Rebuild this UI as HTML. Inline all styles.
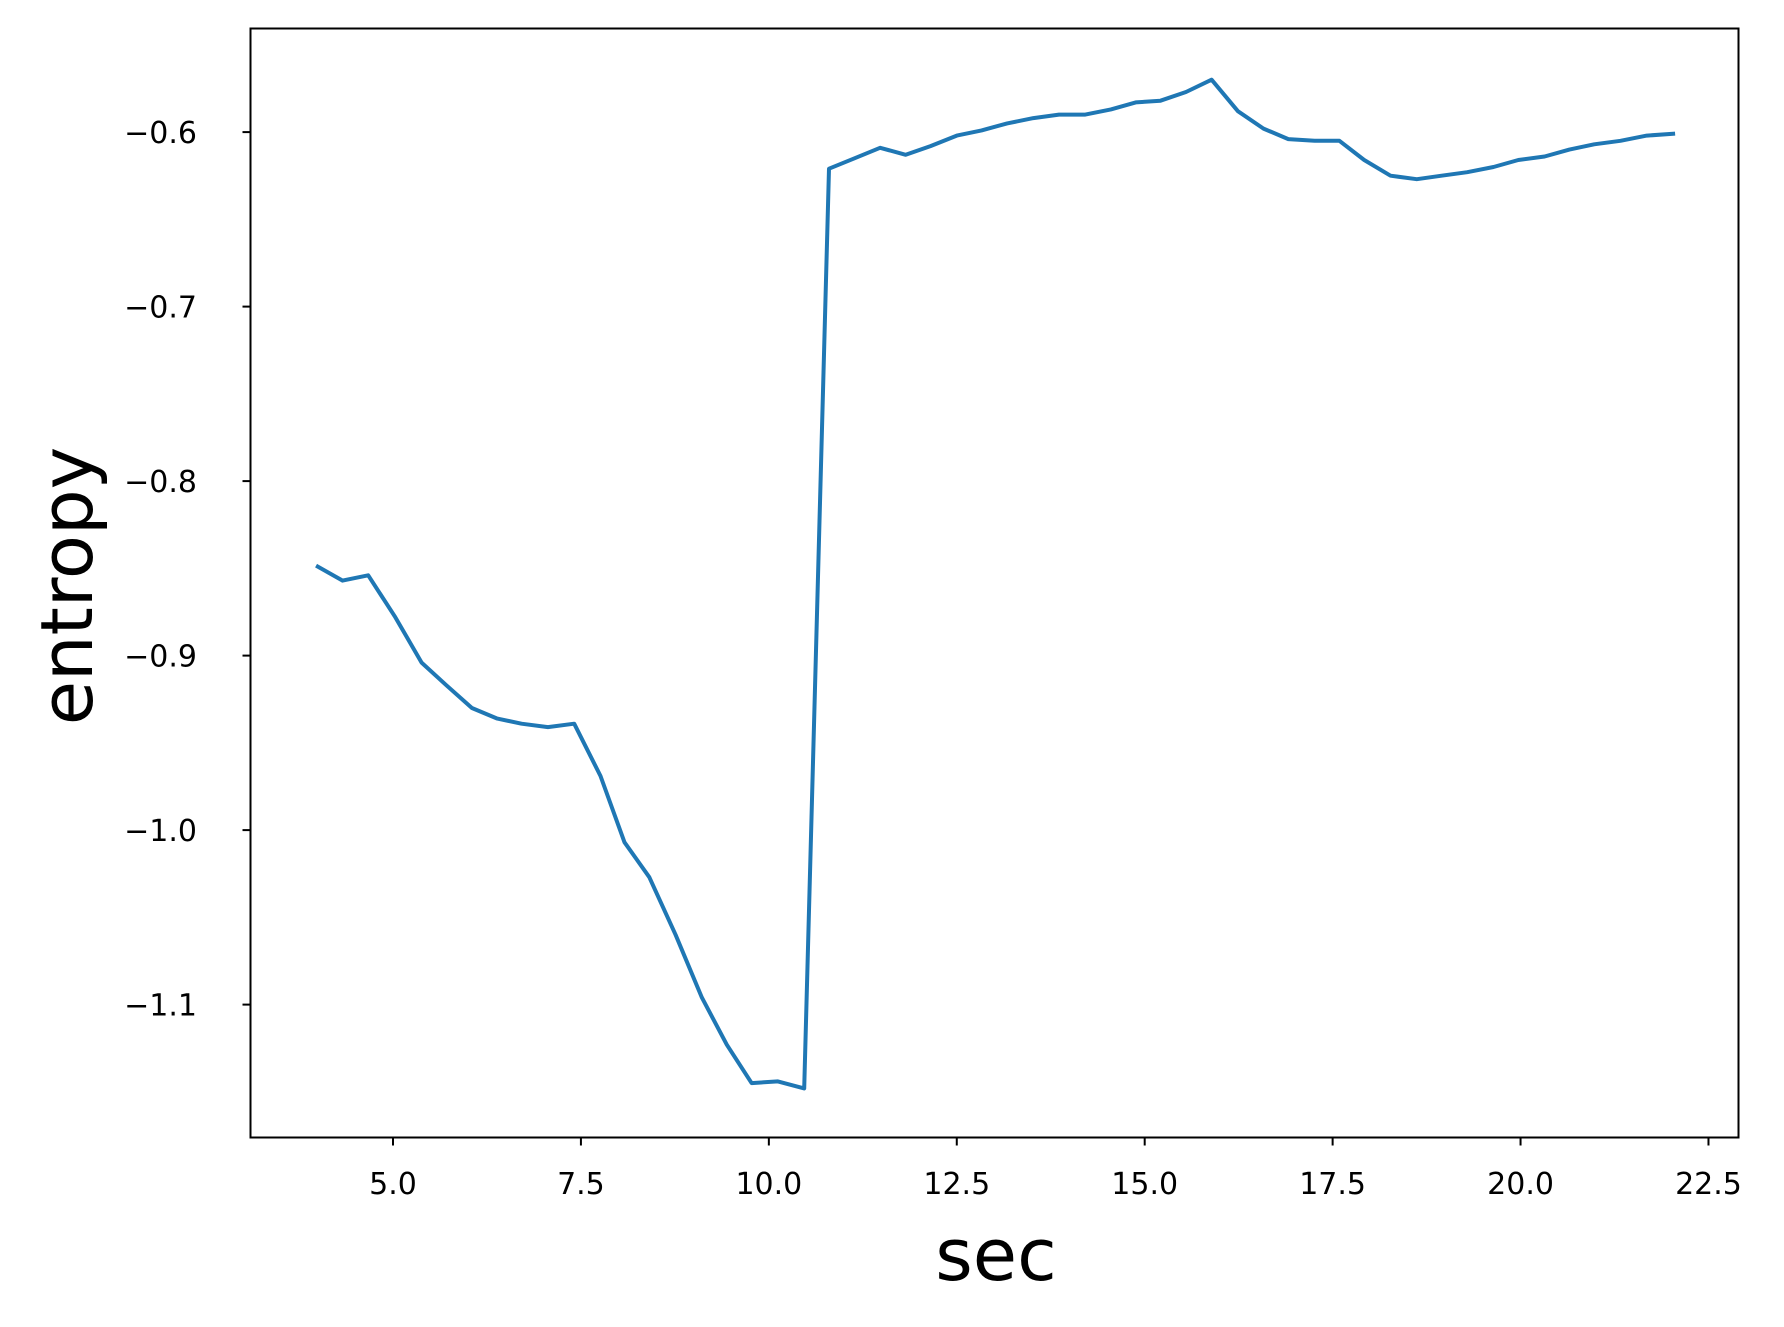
<!DOCTYPE html>
<html><head><meta charset="utf-8"><style>
html,body{margin:0;padding:0;background:#fff;}
svg{display:block;font-family:"DejaVu Sans","Liberation Sans",sans-serif;}
</style></head><body>
<svg id="chart" width="1784" height="1327">
<rect x="0" y="0" width="1784" height="1327" fill="#fff"/>
<g id="plot"></g>
<text x="996" y="1280" font-size="72" text-anchor="middle">sec</text>
<text transform="translate(92,586) rotate(-90)" font-size="72" text-anchor="middle">entropy</text>
</svg>
<script>
const xValues=[4.00,4.33,4.67,5.03,5.38,5.71,6.05,6.38,6.71,7.06,7.41,7.76,8.08,8.41,8.76,9.11,9.44,9.77,10.12,10.47,10.80,11.14,11.48,11.82,12.15,12.50,12.83,13.17,13.52,13.86,14.21,14.55,14.88,15.21,15.55,15.89,16.24,16.58,16.91,17.26,17.59,17.92,18.27,18.62,18.95,19.29,19.64,19.97,20.32,20.65,20.98,21.33,21.68,22.03];
const entropyValues=[-0.849,-0.857,-0.854,-0.878,-0.904,-0.917,-0.930,-0.936,-0.939,-0.941,-0.939,-0.969,-1.007,-1.027,-1.060,-1.096,-1.123,-1.145,-1.144,-1.148,-0.621,-0.615,-0.609,-0.613,-0.608,-0.602,-0.599,-0.595,-0.592,-0.590,-0.590,-0.587,-0.583,-0.582,-0.577,-0.570,-0.588,-0.598,-0.604,-0.605,-0.605,-0.616,-0.625,-0.627,-0.625,-0.623,-0.620,-0.616,-0.614,-0.610,-0.607,-0.605,-0.602,-0.601];
const xTicks=[5.0,7.5,10.0,12.5,15.0,17.5,20.0,22.5];
const xTickLabels=["5.0","7.5","10.0","12.5","15.0","17.5","20.0","22.5"];
const yTicks=[-0.6,-0.7,-0.8,-0.9,-1.0,-1.1];
const yTickLabels=["\u22120.6","\u22120.7","\u22120.8","\u22120.9","\u22121.0","\u22121.1"];

const L=250.5,R=1738.5,T=28.5,B=1137.5;
function sx(v){return 393+(v-5)*75.17;}
function sy(v){return 132.1+(-0.6-v)*1745;}
const NS="http://www.w3.org/2000/svg";
const g=document.getElementById('plot');
function mk(tag,attrs){const e=document.createElementNS(NS,tag);for(const k in attrs)e.setAttribute(k,attrs[k]);return e;}

const path=mk('path',{d:xValues.map((x,i)=>(i?'L':'M')+sx(x).toFixed(1)+','+sy(entropyValues[i]).toFixed(1)).join(' '),fill:'none',stroke:'#1f77b4','stroke-width':4,'stroke-linejoin':'round','stroke-linecap':'square'});


g.appendChild(path);

const frame=mk('rect',{x:L,y:T,width:R-L,height:B-T,fill:'none',stroke:'#000','stroke-width':2});


g.appendChild(frame);

xTicks.forEach((t,i)=>{
  const x=sx(t);
  const tk=mk('line',{x1:x,x2:x,y1:B,y2:B+8,stroke:'#000','stroke-width':2});
  
  
  g.appendChild(tk);
  const tx=mk('text',{x:x,y:1194,'font-size':30,'text-anchor':'middle'});
  tx.textContent=xTickLabels[i];
  
  
  g.appendChild(tx);
});
yTicks.forEach((t,i)=>{
  const y=sy(t);
  const tk=mk('line',{x1:L-8,x2:L,y1:y,y2:y,stroke:'#000','stroke-width':2});
  
  
  g.appendChild(tk);
  const tx=mk('text',{x:197,y:y+11,'font-size':30,'text-anchor':'end'});
  tx.textContent=yTickLabels[i];
  
  
  g.appendChild(tx);
});
</script>
</body></html>
